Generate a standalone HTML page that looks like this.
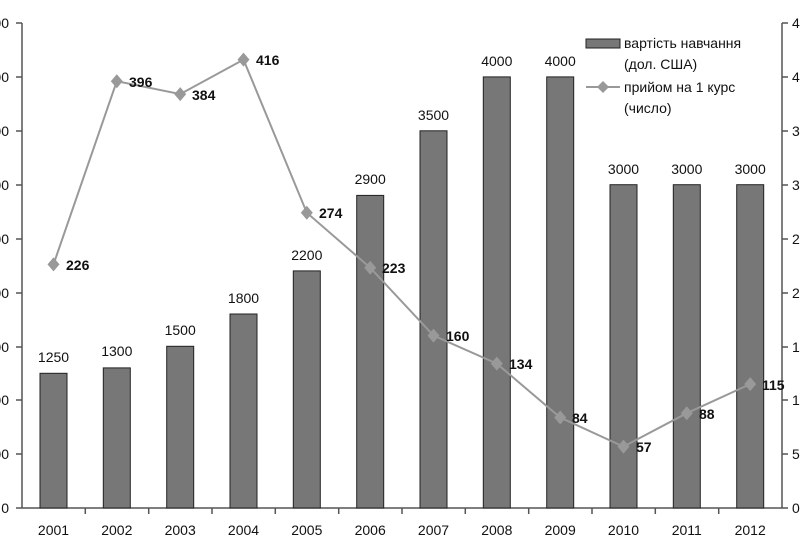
<!DOCTYPE html>
<html><head><meta charset="utf-8"><style>body{margin:0;background:#fff}svg{display:block}text{font-family:"Liberation Sans",Arial,sans-serif}</style></head>
<body>
<svg width="800" height="550" xmlns="http://www.w3.org/2000/svg">
<g stroke="#555" stroke-width="1.5" fill="none">
<line x1="22" y1="23" x2="22" y2="508"/>
<line x1="782" y1="23" x2="782" y2="508"/>
<line x1="16" y1="508" x2="788" y2="508"/>
<path d="M16 23h6M16 77h6M16 131h6M16 185h6M16 239h6M16 293h6M16 347h6M16 400h6M16 454h6"/>
<path d="M782 23h6M782 77h6M782 131h6M782 185h6M782 239h6M782 293h6M782 347h6M782 400h6M782 454h6"/>
<path d="M85.3 508v6M148.7 508v6M212 508v6M275.3 508v6M338.7 508v6M402 508v6M465.3 508v6M528.7 508v6M592 508v6M655.3 508v6M718.7 508v6"/>
</g>
<g font-size="14" fill="#111">
<text x="9" y="28" text-anchor="end">4500</text><text x="9" y="82" text-anchor="end">4000</text><text x="9" y="136" text-anchor="end">3500</text><text x="9" y="190" text-anchor="end">3000</text><text x="9" y="244" text-anchor="end">2500</text><text x="9" y="298" text-anchor="end">2000</text><text x="9" y="352" text-anchor="end">1500</text><text x="9" y="405" text-anchor="end">1000</text><text x="9" y="459" text-anchor="end">500</text><text x="9" y="513" text-anchor="end">0</text>
<text x="792" y="28">450</text><text x="792" y="82">400</text><text x="792" y="136">350</text><text x="792" y="190">300</text><text x="792" y="244">250</text><text x="792" y="298">200</text><text x="792" y="352">150</text><text x="792" y="405">100</text><text x="792" y="459">50</text><text x="792" y="513">0</text>
</g>
<g fill="#777" stroke="#222" stroke-width="1">
<rect x="40" y="373.3" width="27" height="134.7"/>
<rect x="103.3" y="367.9" width="27" height="140.1"/>
<rect x="166.7" y="346.3" width="27" height="161.7"/>
<rect x="230" y="314" width="27" height="194"/>
<rect x="293.3" y="270.9" width="27" height="237.1"/>
<rect x="356.7" y="195.4" width="27" height="312.6"/>
<rect x="420" y="130.8" width="27" height="377.2"/>
<rect x="483.3" y="76.9" width="27" height="431.1"/>
<rect x="546.7" y="76.9" width="27" height="431.1"/>
<rect x="610" y="184.7" width="27" height="323.3"/>
<rect x="673.3" y="184.7" width="27" height="323.3"/>
<rect x="736.7" y="184.7" width="27" height="323.3"/>
</g>
<g font-size="14" fill="#111" text-anchor="middle">
<text x="53.5" y="362">1250</text><text x="116.8" y="356">1300</text><text x="180.2" y="335">1500</text><text x="243.5" y="303">1800</text><text x="306.8" y="260">2200</text><text x="370.2" y="184">2900</text><text x="433.5" y="120">3500</text><text x="496.8" y="66">4000</text><text x="560.2" y="66">4000</text><text x="623.5" y="174">3000</text><text x="686.8" y="174">3000</text><text x="750.2" y="174">3000</text>
<text x="53.5" y="535">2001</text><text x="116.8" y="535">2002</text><text x="180.2" y="535">2003</text><text x="243.5" y="535">2004</text><text x="306.8" y="535">2005</text><text x="370.2" y="535">2006</text><text x="433.5" y="535">2007</text><text x="496.8" y="535">2008</text><text x="560.2" y="535">2009</text><text x="623.5" y="535">2010</text><text x="686.8" y="535">2011</text><text x="750.2" y="535">2012</text>
</g>
<polyline fill="none" stroke="#999" stroke-width="2" points="53.5,264.4 116.8,81.2 180.2,94.1 243.5,59.6 306.8,212.7 370.2,267.7 433.5,335.6 496.8,363.6 560.2,417.5 623.5,446.6 686.8,413.2 750.2,384.1"/>
<g fill="#999">
<path d="M53.5 257.4l6 7-6 7-6-7z"/><path d="M116.8 74.2l6 7-6 7-6-7z"/><path d="M180.2 87.1l6 7-6 7-6-7z"/><path d="M243.5 52.6l6 7-6 7-6-7z"/><path d="M306.8 205.7l6 7-6 7-6-7z"/><path d="M370.2 260.7l6 7-6 7-6-7z"/><path d="M433.5 328.6l6 7-6 7-6-7z"/><path d="M496.8 356.6l6 7-6 7-6-7z"/><path d="M560.2 410.5l6 7-6 7-6-7z"/><path d="M623.5 439.6l6 7-6 7-6-7z"/><path d="M686.8 406.2l6 7-6 7-6-7z"/><path d="M750.2 377.1l6 7-6 7-6-7z"/>
</g>
<g font-size="14" font-weight="bold" fill="#111">
<text x="66" y="270">226</text><text x="129" y="87">396</text><text x="192" y="100">384</text><text x="256" y="65">416</text><text x="319" y="218">274</text><text x="382" y="273">223</text><text x="446" y="341">160</text><text x="509" y="369">134</text><text x="572" y="423">84</text><text x="636" y="452">57</text><text x="699" y="419">88</text><text x="762" y="390">115</text>
</g>
<rect x="586" y="39" width="34" height="9" fill="#777" stroke="#222"/>
<line x1="586" y1="87" x2="620" y2="87" stroke="#999" stroke-width="2"/>
<path d="M603 81l6 6-6 6-6-6z" fill="#999"/>
<g font-size="14" fill="#111">
<text x="624" y="48">вартість навчання</text><text x="624" y="69">(дол. США)</text><text x="624" y="92">прийом на 1 курс</text><text x="624" y="113">(число)</text>
</g>
</svg>
</body></html>
